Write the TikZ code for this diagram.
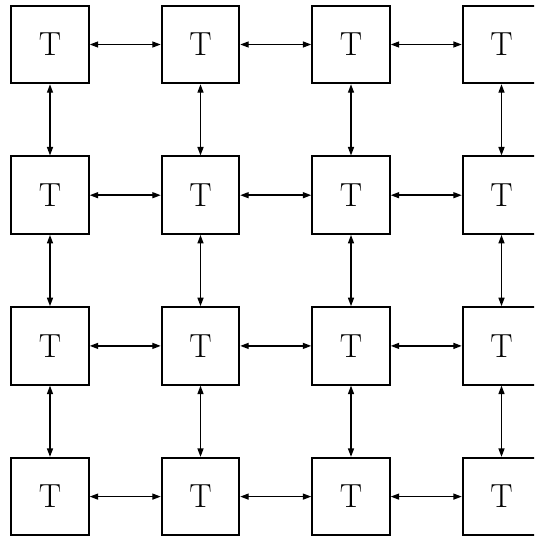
\documentclass[tikz,border=0pt]{standalone}
\usetikzlibrary{arrows.meta}
\begin{document}
\begin{tikzpicture}[x=0.02cm,y=-0.02cm,
  tile/.style={draw,line width=1.1pt,minimum size=1.55cm,inner sep=0pt,font=\fontsize{19}{22}\selectfont},
  link/.style={line width=0.8pt,{Triangle[length=0.17cm,width=0.12cm]}-{Triangle[length=0.17cm,width=0.12cm]}}]
\useasboundingbox (0,0) rectangle (534,537);
\clip (0,0) rectangle (534,537);
\foreach \c in {0,1,2,3}{
  \foreach \r in {0,1,2,3}{
    \node[tile] (n\r\c) at ({50+150.5*\c},{44.5+150.7*\r}) {T};
  }
}
\foreach \r in {0,1,2,3}{
  \draw[link] (n\r0) -- (n\r1);
  \draw[link] (n\r1) -- (n\r2);
  \draw[link] (n\r2) -- (n\r3);
}
\foreach \c in {0,1,2,3}{
  \draw[link] (n0\c) -- (n1\c);
  \draw[link] (n1\c) -- (n2\c);
  \draw[link] (n2\c) -- (n3\c);
}
\end{tikzpicture}
\end{document}
